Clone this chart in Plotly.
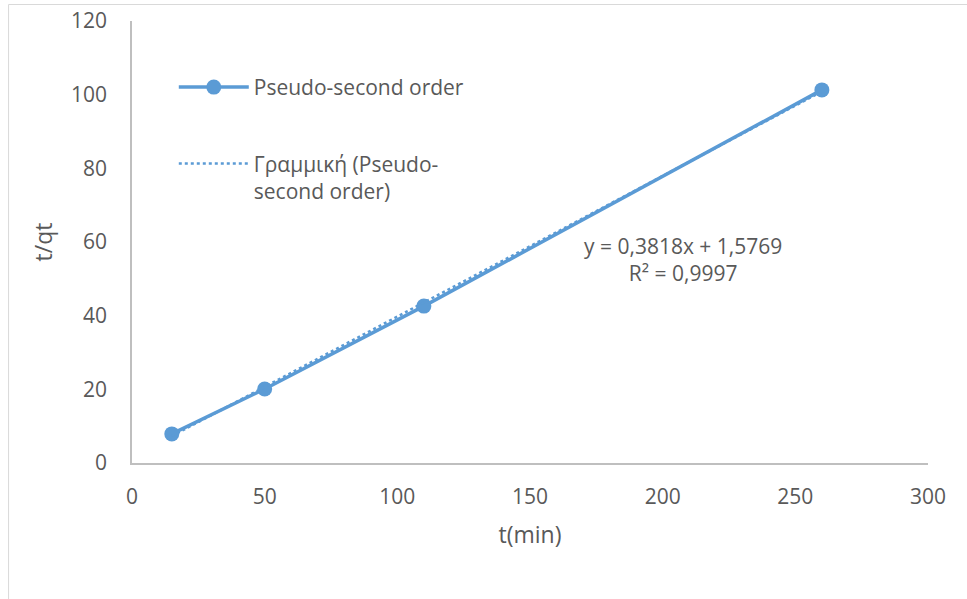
import plotly.graph_objects as go

# data
t_min = [15, 50, 110, 260]
t_over_qt = [7.9, 20.1, 42.6, 101.3]
slope = 0.3818
intercept = 1.5769
trend_x = [15, 260]
x_ticks = [0, 50, 100, 150, 200, 250, 300]
y_ticks = [0, 20, 40, 60, 80, 100, 120]
series_name = "Pseudo-second order"
trend_name = "Γραμμική (Pseudo-<br>second order)"
eq_text = "y = 0,3818x + 1,5769<br>R² = 0,9997"

BLUE = "#5B9BD5"
FONT = "Open Sans"
TXT = "#595959"

W, H = 967, 599
L, R, T, B = 131.5, 39, 21, 136
pw, ph = W - L - R, H - T - B

fig = go.Figure()
fig.add_trace(go.Scatter(
    x=t_min, y=t_over_qt, mode="lines+markers", name=series_name,
    line=dict(color=BLUE, width=3.5),
    marker=dict(color=BLUE, size=15),
    legendgroup="a", cliponaxis=False,
))
fig.add_trace(go.Scatter(
    x=trend_x, y=[slope * v + intercept for v in trend_x], mode="lines",
    name=trend_name,
    line=dict(color=BLUE, width=2.5, dash="dot"),
    legendgroup="b",
))

fig.add_annotation(x=207.7, y=55.3, xref="x", yref="y", text=eq_text,
                   showarrow=False, align="center",
                   font=dict(family=FONT, size=21, color=TXT))

# outer chart frame
fig.add_shape(type="rect", xref="paper", yref="paper",
              x0=(8 - L) / pw, x1=1.2, y0=-0.5, y1=(H - B - 4.5) / ph,
              line=dict(color="#D9D9D9", width=1), fillcolor="rgba(0,0,0,0)", layer="below")

fig.update_layout(
    width=W, height=H,
    margin=dict(l=L, r=R, t=T, b=B, autoexpand=False),
    paper_bgcolor="white", plot_bgcolor="white",
    font=dict(family=FONT, size=21, color=TXT),
    showlegend=True,
    legend=dict(x=0.0525, y=0.896, xanchor="left", yanchor="top", valign="top",
                bgcolor="rgba(0,0,0,0)", tracegroupgap=46,
                itemwidth=70, font=dict(family=FONT, size=21, color=TXT)),
    xaxis=dict(range=[0, 300], tickvals=x_ticks, showgrid=False, zeroline=False,
               showline=True, linecolor="#BFBFBF", linewidth=1.5, ticks="",
               ticklabelstandoff=14, tickfont=dict(family=FONT, size=21, color=TXT),
               title=dict(text="t(min)", font=dict(size=23), standoff=18)),
    yaxis=dict(range=[0, 120], tickvals=y_ticks, showgrid=False, zeroline=False,
               showline=True, linecolor="#BFBFBF", linewidth=1.5, ticks="",
               ticklabelstandoff=19, tickfont=dict(family=FONT, size=21, color=TXT),
               title=dict(text="t/qt", font=dict(size=23), standoff=12)),
)

fig.write_html("out.html")
